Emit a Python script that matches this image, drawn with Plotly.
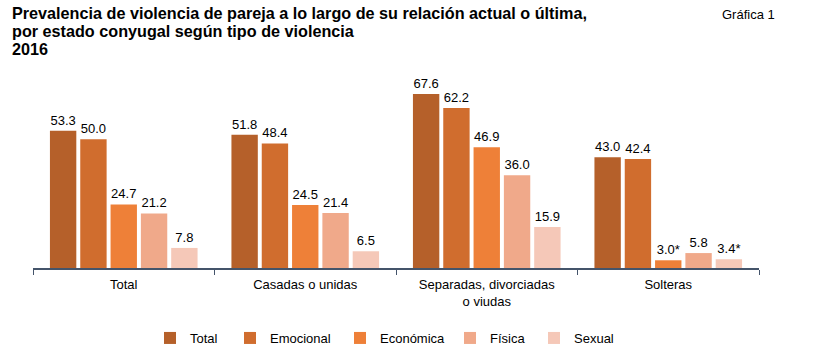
import plotly.graph_objects as go

categories = ["Total", "Casadas o unidas", "Separadas, divorciadas<br>o viudas", "Solteras"]
series_names = ["Total", "Emocional", "Económica", "Física", "Sexual"]
values = {
    "Total":     [53.3, 51.8, 67.6, 43.0],
    "Emocional": [50.0, 48.4, 62.2, 42.4],
    "Económica": [24.7, 24.5, 46.9, 3.0],
    "Física":    [21.2, 21.4, 36.0, 5.8],
    "Sexual":    [7.8, 6.5, 15.9, 3.4],
}
labels = {
    "Total":     ["53.3", "51.8", "67.6", "43.0"],
    "Emocional": ["50.0", "48.4", "62.2", "42.4"],
    "Económica": ["24.7", "24.5", "46.9", "3.0*"],
    "Física":    ["21.2", "21.4", "36.0", "5.8"],
    "Sexual":    ["7.8", "6.5", "15.9", "3.4*"],
}
colors = ["#B5602A", "#D06D2E", "#EE8038", "#F0A98A", "#F5C8B8"]
title_lines = ["Prevalencia de violencia de pareja a lo largo de su relación actual o última,",
               "por estado conyugal según tipo de violencia",
               "2016"]

W, H = 814, 357
L, R, T, B = 33, 55, 75, 89
PW, PH = W - L - R, H - T - B

def px(x):
    return (x - L) / PW

def py(y):
    return (H - B - y) / PH

FONT = "Liberation Sans, Arial"
legend_text_x = [186, 266, 376, 486, 570]

fig = go.Figure()
layout_legends = {}
for i, (name, c) in enumerate(zip(series_names, colors)):
    lg = "legend" if i == 0 else f"legend{i+1}"
    fig.add_trace(go.Bar(
        name=name, x=categories, y=values[name], text=labels[name],
        textposition="outside", cliponaxis=False,
        textfont=dict(size=13, color="black", family=FONT),
        marker=dict(color=c, line=dict(width=0)),
        legend=lg,
    ))
    layout_legends[lg] = dict(orientation="h", x=px(legend_text_x[i] - 36), xanchor="left",
                              y=py(338), yanchor="middle", font=dict(size=13),
                              itemwidth=30, bgcolor="rgba(0,0,0,0)")

fig.update_layout(
    width=W, height=H,
    barmode="group", bargap=0.165, bargroupgap=0.13,
    plot_bgcolor="white", paper_bgcolor="white",
    margin=dict(l=L, r=R, t=T, b=B, autoexpand=False),
    font=dict(family=FONT, size=13, color="black"),
    showlegend=True,
    xaxis=dict(showline=True, linecolor="#44546A", linewidth=1.5,
               ticks="outside", tickson="boundaries", ticklen=5, tickcolor="#44546A",
               tickfont=dict(size=13), ticklabelstandoff=4),
    yaxis=dict(visible=False, range=[0, 75]),
    **layout_legends,
)
for line, yc in zip(title_lines, [13, 31, 49]):
    fig.add_annotation(text=f"<b>{line}</b>", xref="paper", yref="paper",
                       x=px(10), y=py(yc), xanchor="left", yanchor="middle",
                       align="left", showarrow=False, font=dict(size=16.2, color="black"))
fig.add_annotation(text="Gráfica 1", xref="paper", yref="paper", x=px(720), y=py(14),
                   xanchor="left", yanchor="middle", showarrow=False, font=dict(size=13, color="black"))
fig.write_html("out.html", config={"displayModeBar": False},
               post_script="document.body.style.margin='0';document.body.style.overflow='hidden';")
